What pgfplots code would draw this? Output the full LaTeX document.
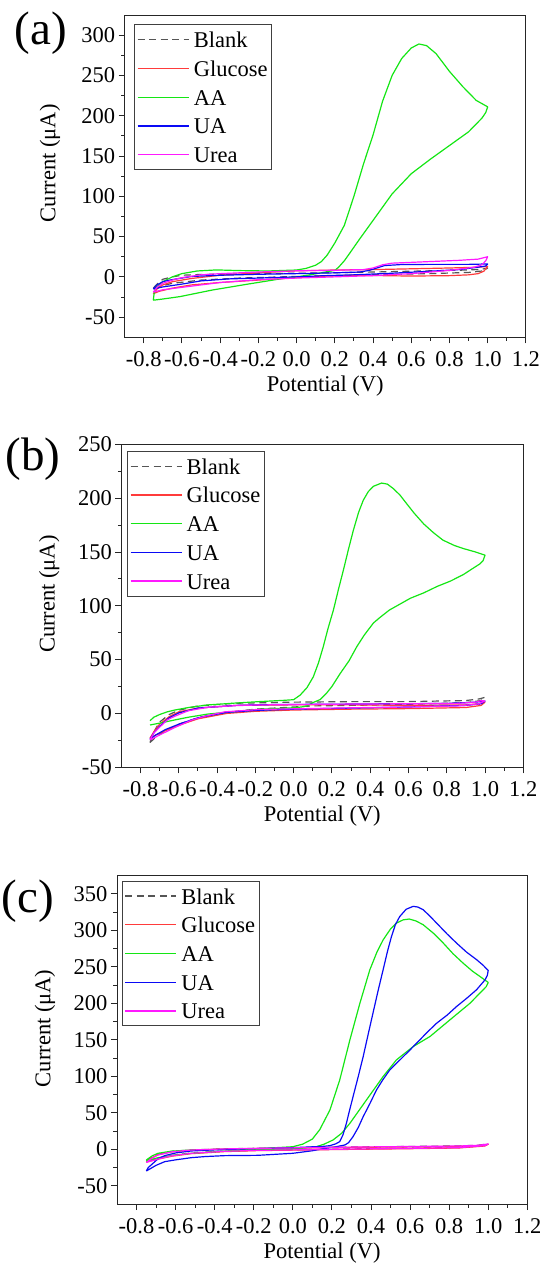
\documentclass[border=0pt]{standalone}
\usepackage{fontspec}
\setmainfont{Liberation Serif}
\usepackage{pgfplots}
\pgfplotsset{compat=1.18}

\definecolor{cvblank}{HTML}{555555}
\definecolor{cvred}{HTML}{FF3B3B}
\definecolor{cvgreen}{HTML}{14E614}
\definecolor{cvblue}{HTML}{0A0AF5}
\definecolor{cvmag}{HTML}{FF19FF}
\newcommand{\fs}{\fontsize{22.5}{27}\selectfont}

\pgfplotsset{
  cvaxis/.style={
    scale only axis,
    xmin=-0.9, xmax=1.2,
    xtick={-0.8,-0.6,-0.4,-0.2,0,0.2,0.4,0.6,0.8,1.0,1.2},
    minor x tick num=1, minor y tick num=1,
    tick align=outside,
    xtick pos=bottom, ytick pos=left,
    major tick length=6pt, minor tick length=3.5pt,
    axis line style={black!85, line width=0.9pt},
    every tick/.append style={black!85, line width=0.9pt},
    /pgf/number format/assume math mode=true,
    xticklabel style={/pgf/number format/.cd, fixed, fixed zerofill, precision=1, /tikz/.cd, yshift=-5pt},
    tick label style={font=\fs},
    label style={font=\fs},
    xlabel={Potential (V)},
    ylabel={Current (μA)},
    xlabel style={at={(axis description cs:0.5,0)}, anchor=center, yshift=-49pt},
    legend cell align=left,
    legend style={anchor=north west, draw=black!75, line width=0.9pt, fill=white,
      inner sep=2.5pt, row sep=3.7pt, column sep=3pt, font=\fs,
      nodes={inner sep=1.5pt, text height=19pt, text depth=3pt}},
    legend image code/.code={\draw[##1, line width=1.3pt] (0pt,0pt) -- (51pt,0pt);},
  },
  cv/.style={line width=1.2pt, line join=round},
}

\begin{document}
\begin{tikzpicture}
\useasboundingbox (0pt,0pt) rectangle (542pt,1263pt);

% ---------- (a)
\begin{axis}[cvaxis, at={(124.6pt,925.7pt)}, anchor=south west,
  width=401.3pt, height=322.3pt, ymin=-75, ymax=325, ytick={-50,0,...,300},
  ylabel style={at={(axis description cs:-0.186,0.54)}, anchor=center},
  legend style={at={(axis description cs:0.0237,0.971)}}]
\addplot[cv, cvblank, dash pattern=on 7pt off 4.5pt] coordinates {
 (-0.75,-14) (-0.73,-9) (-0.7,-3) (-0.65,0) (-0.6,2) (-0.5,3) (-0.3,3.5) (0,4.5) (0.3,5.5) (0.5,6.5)
 (0.7,7.5) (0.9,8.5) (0.97,9.5) (1.0,11)
 (0.98,7.5) (0.9,5.5) (0.7,4) (0.5,3) (0.3,2) (0,0.5) (-0.3,-1.5) (-0.5,-4) (-0.65,-8) (-0.72,-12) (-0.75,-14)};
\addlegendentry{Blank}
\addplot[cv, cvred] coordinates {
 (-0.75,-21) (-0.73,-15) (-0.7,-10) (-0.65,-6) (-0.55,-2) (-0.4,2) (-0.2,5) (0,7.5) (0.2,8.5) (0.4,9)
 (0.6,10) (0.8,11) (0.95,12) (1.0,13)
 (0.98,7) (0.95,4) (0.9,2.5) (0.8,1.5) (0.6,1) (0.45,1.5) (0.3,2) (0.1,0.5) (0,-1) (-0.2,-4)
 (-0.4,-7) (-0.55,-10) (-0.65,-14) (-0.72,-18) (-0.75,-21)};
\addlegendentry{Glucose}
\addplot[cv, cvgreen] coordinates {
 (-0.75,-29) (-0.745,-20) (-0.74,-14) (-0.7,-6) (-0.65,0) (-0.6,4) (-0.52,7.3) (-0.42,8.6) (-0.3,7.8)
 (-0.15,7.3) (0,8.5) (0.05,10.5) (0.1,14.5) (0.13,19) (0.16,27) (0.2,42) (0.25,64) (0.3,100)
 (0.35,140) (0.4,176) (0.45,218) (0.5,250) (0.55,271) (0.6,284) (0.64,289) (0.68,287) (0.73,277)
 (0.8,255) (0.87,236) (0.94,219) (1.0,211)
 (0.99,204) (0.97,197) (0.9,180) (0.8,163) (0.7,146) (0.6,128) (0.5,103) (0.4,70) (0.33,47)
 (0.28,30) (0.25,20) (0.22,12) (0.2,8) (0.15,6) (0.087,3.2) (0,0) (-0.087,-2.6) (-0.26,-9.2)
 (-0.44,-16.3) (-0.61,-24.5) (-0.7,-27.5) (-0.75,-29)};
\addlegendentry{AA}
\addplot[cv, cvblue] coordinates {
 (-0.75,-15) (-0.73,-10) (-0.7,-6) (-0.66,-3.8) (-0.55,0.5) (-0.4,2) (-0.2,3.2) (0,4) (0.2,5)
 (0.33,6) (0.38,8) (0.42,11) (0.46,14) (0.55,15.3) (0.7,15.5) (0.9,15.5) (1.0,16)
 (0.99,13.5) (0.95,12) (0.85,9) (0.7,7) (0.5,4.5) (0.3,2.5) (0.15,1.5) (0,0) (-0.2,-1.5)
 (-0.35,-2.5) (-0.5,-5) (-0.6,-9) (-0.7,-12.5) (-0.75,-15)};
\addlegendentry{UA}
\addplot[cv, cvmag] coordinates {
 (-0.75,-19) (-0.73,-13) (-0.7,-8) (-0.65,-4) (-0.6,-1) (-0.5,2.5) (-0.4,4) (-0.2,6) (0,7.5)
 (0.2,8.2) (0.35,9) (0.4,11) (0.45,15) (0.5,17) (0.6,18) (0.7,19) (0.85,20.5) (0.95,22) (1.0,25)
 (0.99,20) (0.97,15) (0.93,12) (0.8,8) (0.6,4) (0.4,1.5) (0.2,0) (0,-1.5) (-0.2,-3.5) (-0.4,-7)
 (-0.5,-10) (-0.6,-13) (-0.7,-16) (-0.75,-19)};
\addlegendentry{Urea}
\end{axis}

% ---------- (b)
\begin{axis}[cvaxis, at={(121.3pt,495.7pt)}, anchor=south west,
  width=402pt, height=323pt, ymin=-50, ymax=250, ytick={-50,0,...,250},
  ylabel style={at={(axis description cs:-0.179,0.536)}, anchor=center},
  legend style={at={(axis description cs:0.014,0.980)}}]
\addplot[cv, cvblank, dash pattern=on 7pt off 4.5pt] coordinates {
 (-0.75,-27) (-0.74,-21) (-0.72,-14) (-0.7,-8) (-0.65,-1) (-0.6,3) (-0.5,7) (-0.3,9.5) (0,10.5)
 (0.3,11) (0.6,11) (0.9,12) (0.97,13.5) (1.0,15)
 (0.98,12) (0.9,10) (0.6,8.5) (0.3,7.5) (0.1,7) (0,6) (-0.2,4) (-0.4,0) (-0.5,-4) (-0.6,-10)
 (-0.67,-16) (-0.72,-22) (-0.75,-27)};
\addlegendentry{Blank}
\addplot[cv, cvred] coordinates {
 (-0.75,-23) (-0.73,-17) (-0.7,-10) (-0.65,-3) (-0.6,1.5) (-0.5,5) (-0.3,7.5) (0,8) (0.3,8)
 (0.6,7.5) (0.9,8) (0.97,9) (1.0,10.5)
 (0.98,7.5) (0.9,5.5) (0.6,4.5) (0.3,4) (0,3.2) (-0.2,2) (-0.35,0) (-0.5,-5) (-0.6,-11)
 (-0.67,-16) (-0.72,-20) (-0.75,-23)};
\addlegendentry{Glucose}
\addplot[cv, cvgreen] coordinates {
 (-0.75,-6.7) (-0.73,-3.5) (-0.7,-1) (-0.66,1.5) (-0.62,3.2) (-0.55,5.5) (-0.45,7.9) (-0.3,9.7)
 (-0.18,11) (-0.05,12.2) (0,12.8) (0.034,17) (0.07,24) (0.103,34) (0.13,47) (0.155,62) (0.18,79)
 (0.208,96) (0.234,115) (0.26,133) (0.286,152) (0.312,170) (0.34,187) (0.364,198) (0.39,206)
 (0.417,211) (0.46,214) (0.49,213) (0.52,209) (0.555,203) (0.59,195) (0.63,186) (0.68,176)
 (0.73,168) (0.78,161) (0.84,156) (0.89,153) (0.95,150) (1.0,147)
 (0.99,142) (0.974,139) (0.93,134) (0.887,129) (0.82,123) (0.75,118) (0.68,112) (0.61,107)
 (0.55,101) (0.5,96) (0.45,89) (0.417,84) (0.37,73) (0.33,62) (0.29,49) (0.243,37) (0.2,25)
 (0.173,19) (0.14,13) (0.1,10) (0.07,7) (0.04,6) (0,5.3) (-0.184,3.9) (-0.3,1.8) (-0.446,-0.5)
 (-0.55,-3.5) (-0.62,-6) (-0.7,-9) (-0.75,-10.7)};
\addlegendentry{AA}
\addplot[cv, cvblue] coordinates {
 (-0.75,-24) (-0.73,-18) (-0.7,-12) (-0.65,-4) (-0.6,0.5) (-0.5,5) (-0.3,7.5) (-0.1,8.3) (0.2,8.6)
 (0.5,9) (0.8,9.3) (0.95,10.5) (1.0,11.5)
 (0.98,9) (0.9,7.5) (0.6,6) (0.3,5) (0,4) (-0.2,2.8) (-0.35,1) (-0.5,-4) (-0.6,-10) (-0.67,-15)
 (-0.72,-20) (-0.75,-24)};
\addlegendentry{UA}
\addplot[cv, cvmag] coordinates {
 (-0.75,-24.5) (-0.73,-18) (-0.707,-14) (-0.66,-6) (-0.62,-2.5) (-0.55,2.5) (-0.45,5.7) (-0.3,7.3)
 (-0.18,7.9) (0,8.3) (0.34,8.8) (0.6,9) (0.86,9.4) (0.95,10.5) (0.98,11.9) (1.0,11.6)
 (0.965,8.8) (0.86,7) (0.6,6) (0.34,5.4) (0,4.3) (-0.18,3.7) (-0.36,1.5) (-0.45,-2) (-0.53,-6)
 (-0.62,-13) (-0.7,-20) (-0.75,-24.6)};
\addlegendentry{Urea}
\end{axis}

% ---------- (c)
\begin{axis}[cvaxis, at={(117pt,59pt)}, anchor=south west,
  width=410.3pt, height=328.3pt, ymin=-75, ymax=375, ytick={-50,0,...,350},
  ylabel style={at={(axis description cs:-0.1755,0.535)}, anchor=center},
  legend style={at={(axis description cs:0.0115,0.985)}}]
\addplot[cv, cvblank, dash pattern=on 7pt off 4.5pt] coordinates {
 (-0.75,-16.5) (-0.72,-11) (-0.69,-7) (-0.62,-3) (-0.52,-0.8) (-0.35,0.6) (-0.18,1.4) (0.1,2.4)
 (0.33,3.2) (0.6,3.9) (0.85,4.6) (0.95,5.6) (1.0,7.5)
 (0.983,5.2) (0.85,2.4) (0.6,1.4) (0.33,0.6) (0.1,-0.3) (-0.18,-1.2) (-0.35,-2.5) (-0.52,-5)
 (-0.62,-8.5) (-0.69,-12.5) (-0.75,-16.5)};
\addlegendentry{Blank}
\addplot[cv, cvred] coordinates {
 (-0.75,-17.5) (-0.72,-11.5) (-0.69,-7.5) (-0.62,-3.5) (-0.52,-1.2) (-0.35,0.3) (-0.18,1) (0.1,2)
 (0.33,2.7) (0.6,3.3) (0.85,4) (0.95,5) (1.0,6.8)
 (0.983,4.5) (0.85,1.8) (0.6,0.8) (0.33,0) (0.1,-0.8) (-0.18,-1.8) (-0.35,-3.2) (-0.52,-6)
 (-0.62,-9.5) (-0.69,-13.5) (-0.75,-17.5)};
\addlegendentry{Glucose}
\addplot[cv, cvgreen] coordinates {
 (-0.75,-14.7) (-0.72,-9) (-0.69,-5.5) (-0.62,-2.5) (-0.52,-1) (-0.35,0) (-0.18,0.8) (0,3.5)
 (0.05,7) (0.1,14) (0.138,27) (0.19,54) (0.24,95) (0.292,150) (0.343,200) (0.394,246)
 (0.43,270) (0.462,287) (0.5,302) (0.53,310) (0.565,314.5) (0.596,315.6) (0.63,313) (0.667,307.8)
 (0.72,296) (0.77,282.6) (0.82,268) (0.872,255) (0.92,244) (0.957,237) (1.0,228.7)
 (0.99,223) (0.974,218.6) (0.906,200) (0.804,177.4) (0.702,154.6) (0.616,140.8) (0.53,122.5)
 (0.462,99.7) (0.377,67.7) (0.292,35.6) (0.25,22) (0.206,12.8) (0.16,7) (0.121,3.6) (0.05,1.5)
 (0,0.5) (-0.18,-1) (-0.35,-2.5) (-0.52,-5.5) (-0.62,-8.5) (-0.69,-11.5) (-0.75,-16)};
\addlegendentry{AA}
\addplot[cv, cvblue] coordinates {
 (-0.75,-29.8) (-0.74,-25) (-0.725,-21.5) (-0.69,-13) (-0.656,-8.7) (-0.6,-5) (-0.52,-2.3)
 (-0.4,-0.8) (-0.264,0.4) (0,2.2) (0.16,4.1) (0.19,5) (0.22,7.5) (0.24,10.5) (0.257,20)
 (0.274,35.6) (0.29,53) (0.308,72) (0.335,100) (0.36,127) (0.385,157) (0.41,186.5) (0.436,217)
 (0.462,246) (0.485,272) (0.505,291.8) (0.525,308) (0.547,319) (0.58,329) (0.616,333) (0.64,332)
 (0.667,328.4) (0.7,320) (0.736,310) (0.79,295) (0.838,282.6) (0.89,270) (0.94,260) (0.975,252)
 (1.0,245)
 (0.995,238) (0.983,232) (0.94,218.6) (0.89,207) (0.838,195.7) (0.79,184) (0.736,172.8)
 (0.69,161) (0.65,150) (0.599,136) (0.55,123) (0.496,108.7) (0.46,95) (0.428,81.3) (0.395,63)
 (0.36,44.7) (0.335,30) (0.308,17.3) (0.285,9) (0.266,5.9) (0.206,2.7) (0.16,1) (0.1,-2)
 (0,-5.5) (-0.18,-8.3) (-0.349,-8.7) (-0.45,-10) (-0.52,-11.5) (-0.6,-14.5) (-0.656,-17)
 (-0.7,-22) (-0.75,-29.8)};
\addlegendentry{UA}
\addplot[cv, cvmag] coordinates {
 (-0.75,-18) (-0.72,-12) (-0.69,-7.8) (-0.62,-3.5) (-0.52,-1) (-0.35,0.5) (-0.18,1.3) (0.1,2.3)
 (0.33,3.1) (0.6,3.8) (0.85,4.5) (0.95,5.5) (1.0,7.3)
 (0.983,5) (0.85,2.2) (0.6,1.2) (0.33,0.4) (0.1,-0.5) (-0.18,-1.4) (-0.35,-2.8) (-0.52,-5.5)
 (-0.62,-9) (-0.69,-13.3) (-0.75,-18)};
\addlegendentry{Urea}
\end{axis}

\node[anchor=west, inner sep=0pt, font=\fontsize{47}{56}\selectfont] at (14.5pt,1229.7pt) {(a)};
\node[anchor=west, inner sep=0pt, font=\fontsize{47}{56}\selectfont] at (5.2pt,804pt) {(b)};
\node[anchor=west, inner sep=0pt, font=\fontsize{47}{56}\selectfont] at (1.7pt,361.3pt) {(c)};
\end{tikzpicture}
\end{document}
